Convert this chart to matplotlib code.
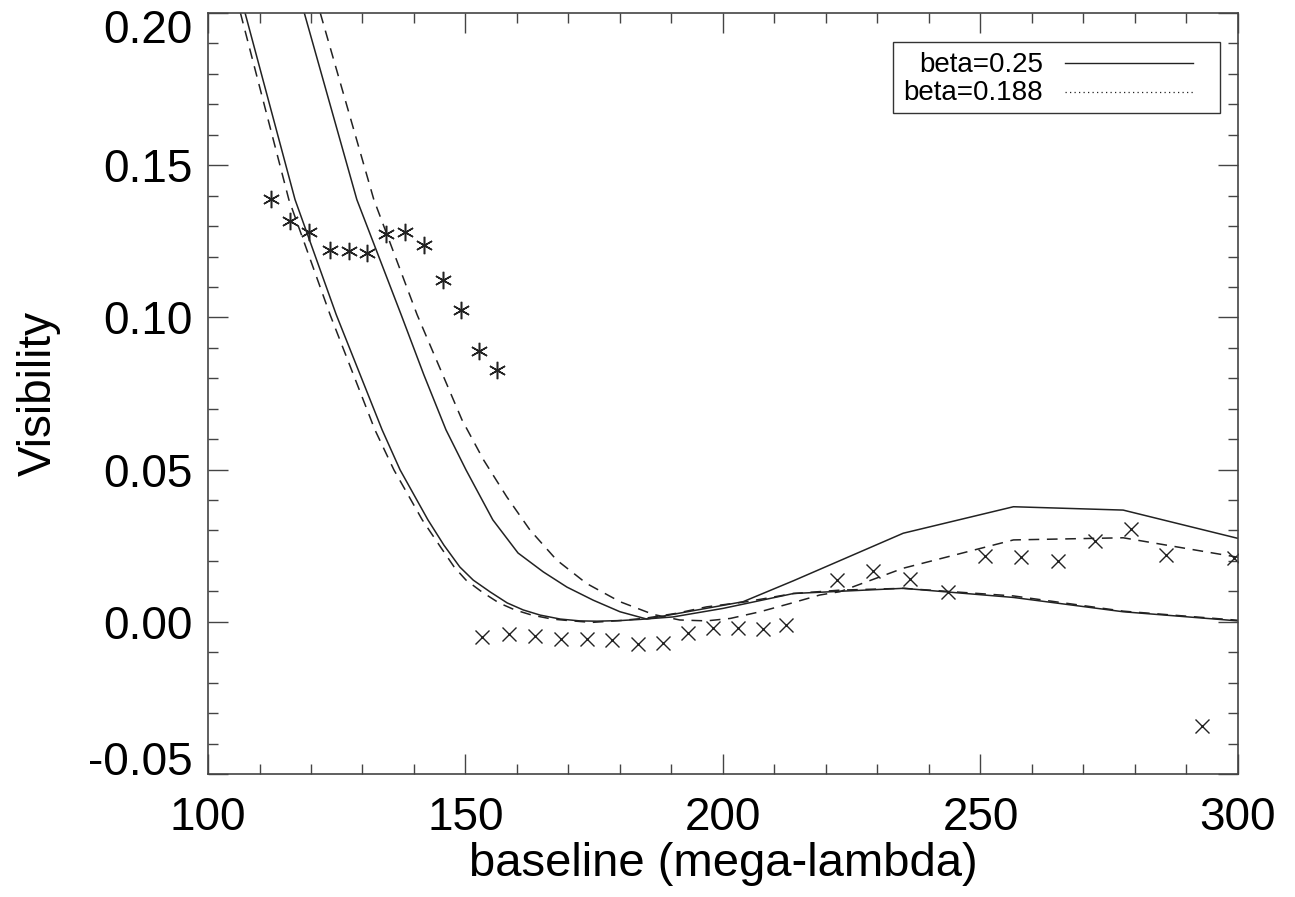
import matplotlib
matplotlib.use("Agg")
import matplotlib.pyplot as plt
from matplotlib.lines import Line2D
from matplotlib.patches import Rectangle
import matplotlib.transforms as mtransforms

plt.rcParams['font.family'] = ['Liberation Sans', 'DejaVu Sans']

# ---- data ----
# asterisk points
ast_x = [112.2, 115.9, 119.7, 123.6, 127.3, 130.9, 134.6, 138.3, 141.9, 145.6, 149.1, 152.7, 156.1]
ast_y = [0.1390, 0.1316, 0.1280, 0.1223, 0.1217, 0.1212, 0.1274, 0.1280, 0.1239, 0.1122, 0.1023, 0.0891, 0.0828]

# cross points
crs_x = [153.3, 158.4, 163.4, 168.5, 173.5, 178.4, 183.4, 188.4, 193.3, 198.0, 202.9, 207.7, 212.2,
         222.1, 229.2, 236.4, 243.7, 250.9, 257.8, 265.1, 272.2, 279.2, 286.0, 293.0, 299.3]
crs_y = [-0.0049, -0.0040, -0.0046, -0.0057, -0.0055, -0.0060, -0.0073, -0.0071, -0.0038, -0.0022,
         -0.0020, -0.0024, -0.0009, 0.0137, 0.0168, 0.0140, 0.0098, 0.0216, 0.0214, 0.0201, 0.0265,
         0.0304, 0.0219, -0.0343, 0.0211]

# model curves, beta=0.25 (solid)
solA_x = [107.2, 116.9, 124.9, 133.8, 137.3, 142.7, 145.8, 148.9, 151.5, 154.8, 158.1, 161.2,
          164.5, 168.4, 172.2, 175.5, 180.0, 184.0, 190.3, 200.0, 213.7, 235.0, 256.4, 277.7, 300.0]
solA_y = [0.200, 0.1387, 0.1009, 0.0631, 0.0499, 0.0335, 0.0252, 0.0180, 0.0137, 0.0098, 0.0062,
          0.0039, 0.0022, 0.0009, 0.0003, 0.0002, 0.0004, 0.0008, 0.0016, 0.0044, 0.0093, 0.0110,
          0.0080, 0.0033, 0.0003]
solB_x = [118.7, 128.9, 137.5, 141.9, 146.2, 150.1, 155.3, 160.2, 165.1, 169.7, 174.8, 180.0,
          185.2, 203.9, 213.7, 235.0, 256.4, 277.7, 300.0]
solB_y = [0.200, 0.1387, 0.1009, 0.0812, 0.0631, 0.0499, 0.0335, 0.0226, 0.0164, 0.0114, 0.0071,
          0.0033, 0.0009, 0.0066, 0.0135, 0.0291, 0.0378, 0.0367, 0.0274]

# model curves, beta=0.188 (dashed)
dasA_x = [106.3, 115.7, 123.7, 132.4, 136.1, 141.6, 144.9, 147.8, 150.1, 153.2, 156.5, 159.6,
          162.9, 166.8, 170.7, 174.5, 180.0, 185.0, 191.0, 196.8, 204.6, 213.7, 222.7, 235.0,
          256.4, 277.7, 300.0]
dasA_y = [0.200, 0.1387, 0.1009, 0.0631, 0.0499, 0.0335, 0.0252, 0.0180, 0.0137, 0.0098, 0.0062,
          0.0039, 0.0022, 0.0009, 0.0003, -0.0002, 0.0004, 0.0012, 0.0028, 0.0049, 0.0066, 0.0093,
          0.0104, 0.0110, 0.0085, 0.0035, 0.0005]
dasB_x = [121.8, 132.2, 140.6, 149.3, 153.5, 158.0, 162.5, 167.7, 173.5, 180.0, 186.5, 191.6,
          196.8, 201.4, 207.2, 213.0, 218.8, 222.7, 235.0, 256.4, 277.7, 300.0]
dasB_y = [0.200, 0.1387, 0.1009, 0.0664, 0.0532, 0.0411, 0.0302, 0.0203, 0.0126, 0.0066, 0.0024,
          0.0006, 0.0003, 0.0011, 0.0033, 0.0060, 0.0088, 0.0099, 0.0176, 0.0269, 0.0276, 0.0212]

legend_labels = ["beta=0.25", "beta=0.188"]
x_ticks = [100, 150, 200, 250, 300]
y_ticks = [-0.05, 0.00, 0.05, 0.10, 0.15, 0.20]
y_ticklabels = ["-0.05", "0.00", "0.05", "0.10", "0.15", "0.20"]

# ---- figure ----
fig = plt.figure(figsize=(12.95, 8.97), dpi=100)
ax = fig.add_axes([208/1295, 123/897, 1030/1295, 761/897])

lc = '#222222'
ax.plot(solA_x, solA_y, color=lc, lw=1.1)
ax.plot(solB_x, solB_y, color=lc, lw=1.1)
ax.plot(dasA_x, dasA_y, color=lc, lw=1.1, dashes=(7, 5))
ax.plot(dasB_x, dasB_y, color=lc, lw=1.1, dashes=(7, 5))

ax.plot(ast_x, ast_y, linestyle='none', marker=(6, 2, 0), markersize=12.5,
        markeredgewidth=1.1, color=lc)
ax.plot(crs_x, crs_y, linestyle='none', marker='x', markersize=10,
        markeredgewidth=1.0, color=lc)

ax.set_xlim(100, 300)
ax.set_ylim(-0.05, 0.20)
ax.set_xticks(x_ticks)
ax.set_xticklabels([str(t) for t in x_ticks])
ax.set_yticks(y_ticks)
ax.set_yticklabels(y_ticklabels)
ax.set_xticks([v for v in range(100, 301, 10) if v not in x_ticks], minor=True)
ax.set_yticks([i / 100 for i in range(-5, 21) if i % 5 != 0], minor=True)

ax.tick_params(which='both', direction='in', top=True, right=True, color='#444444')
ax.tick_params(which='major', length=14.5, width=1.0, labelsize=33)
ax.tick_params(which='minor', length=7.2, width=1.0)
ax.tick_params(axis='x', which='major', pad=16)
ax.tick_params(axis='y', which='major', pad=11)
for s in ax.spines.values():
    s.set_linewidth(1.2)
    s.set_color('#444444')

# nudge the end labels of the y axis inward (as in the original)
fig.canvas.draw()
for lab in ax.get_yticklabels():
    t = lab.get_text()
    if t == "0.20":
        lab.set_transform(lab.get_transform() + mtransforms.ScaledTranslation(0, -0.13, fig.dpi_scale_trans))
    elif t == "-0.05":
        lab.set_transform(lab.get_transform() + mtransforms.ScaledTranslation(0, 0.16, fig.dpi_scale_trans))

ax.set_xlabel("baseline (mega-lambda)", fontsize=34, labelpad=1)
ax.set_ylabel("Visibility", fontsize=33, labelpad=20)

# legend box (text on the left, line sample on the right)
ax.add_patch(Rectangle((0.6654, 0.8690), 0.3172, 0.0933, transform=ax.transAxes,
                       fill=False, edgecolor='#333333', lw=1.0, zorder=5))
ax.text(0.8107, 0.9229, legend_labels[0], transform=ax.transAxes, ha='right', va='baseline',
        fontsize=20, zorder=6)
ax.text(0.8107, 0.8857, legend_labels[1], transform=ax.transAxes, ha='right', va='baseline',
        fontsize=20, zorder=6)
ax.add_line(Line2D([0.8320, 0.9566], [0.9347, 0.9347], transform=ax.transAxes, color=lc, lw=1.0))
ax.add_line(Line2D([0.8320, 0.9566], [0.8966, 0.8966], transform=ax.transAxes, color=lc, lw=0.9,
                   linestyle=(0, (1, 2.6))))

fig.savefig("out.png", dpi=100)
